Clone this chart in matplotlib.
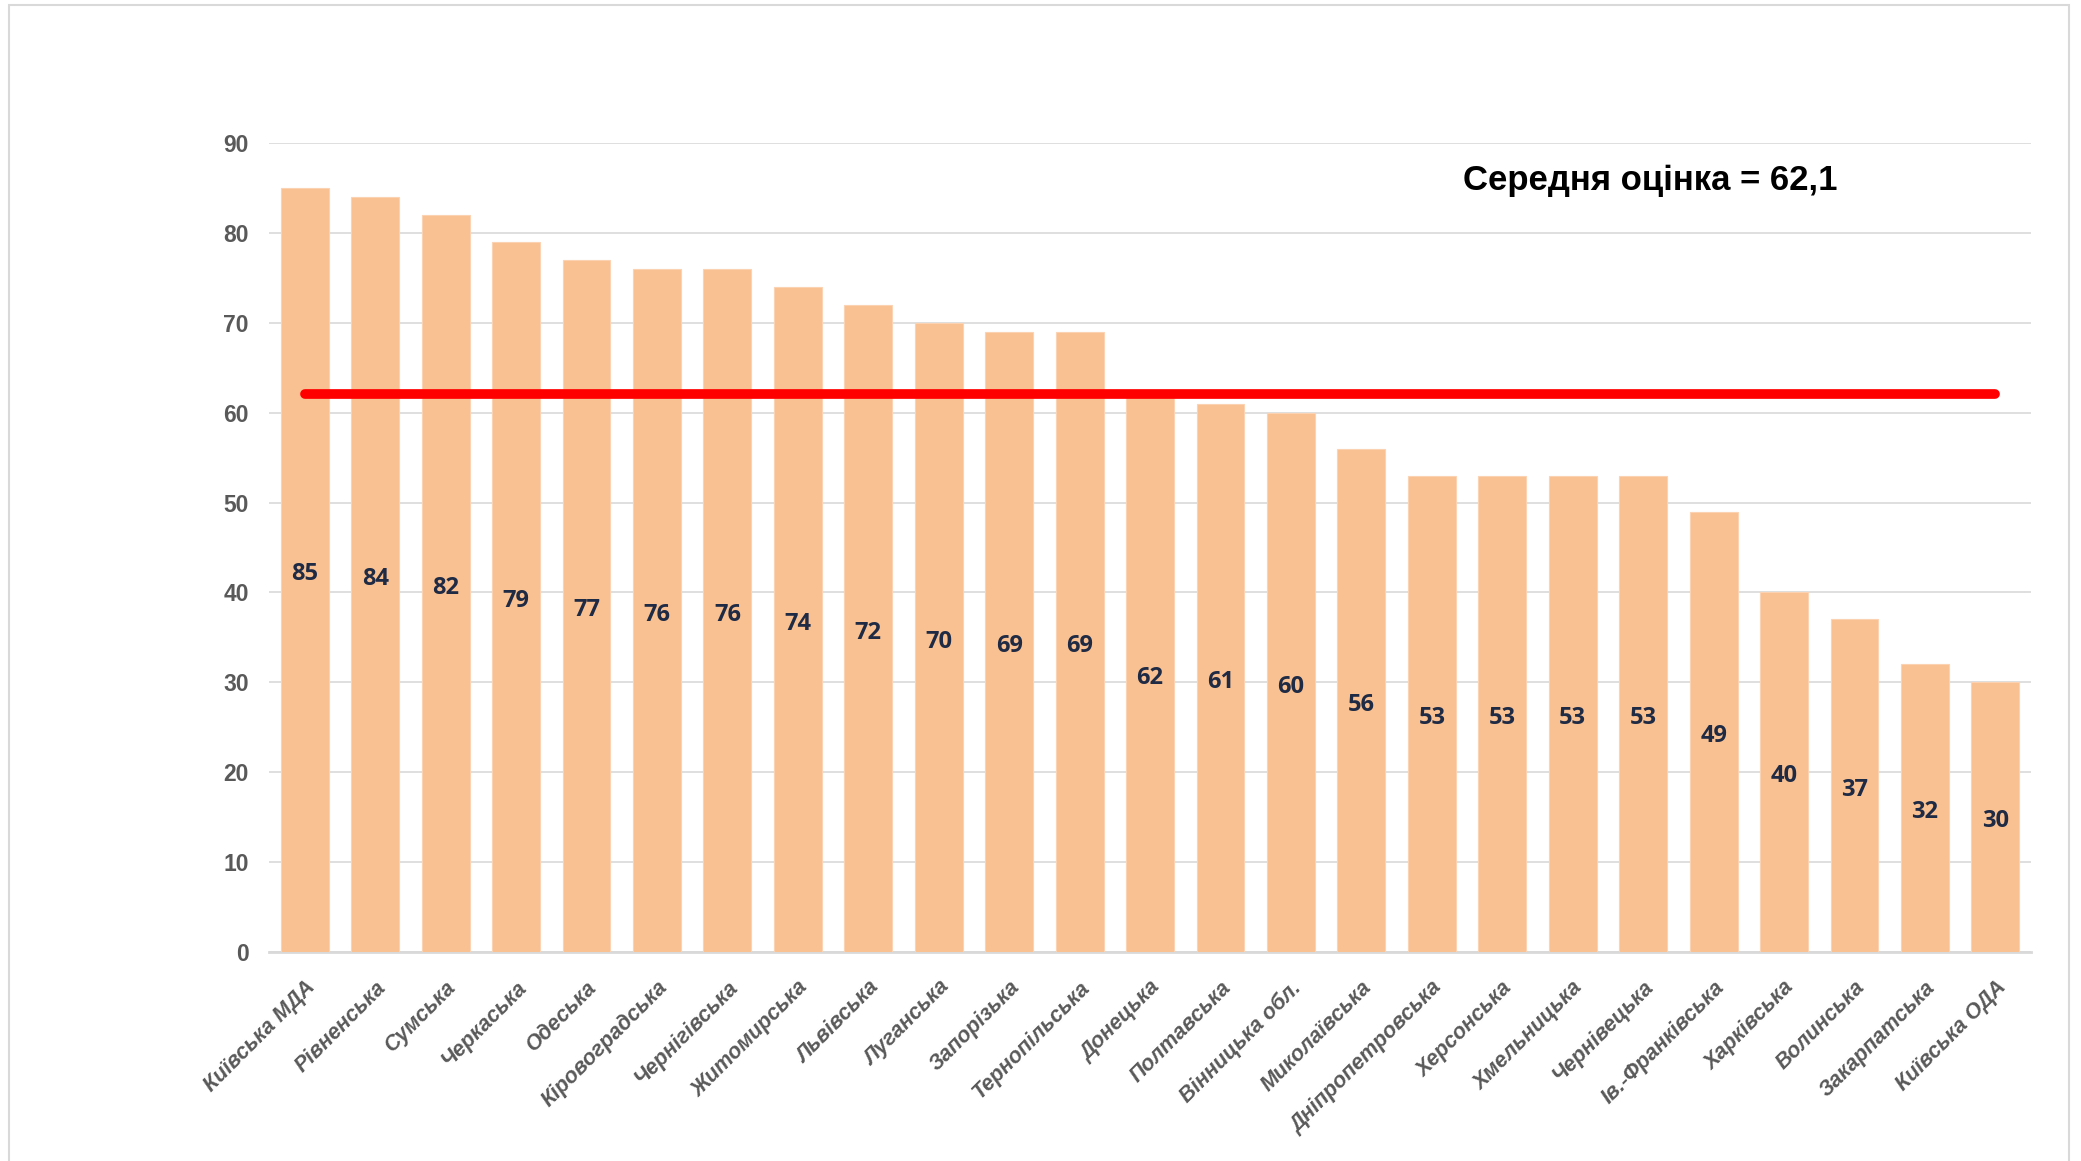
import matplotlib.pyplot as plt
from matplotlib.patches import Rectangle

regions = [
    "Київська МДА", "Рівненська", "Сумська", "Черкаська", "Одеська",
    "Кіровоградська", "Чернігівська", "Житомирська", "Львівська", "Луганська",
    "Запорізька", "Тернопільська", "Донецька", "Полтавська", "Вінницька обл.",
    "Миколаївська", "Дніпропетровська", "Херсонська", "Хмельницька", "Чернівецька",
    "Ів.-Франківська", "Харківська", "Волинська", "Закарпатська", "Київська ОДА",
]
scores = [85, 84, 82, 79, 77, 76, 76, 74, 72, 70, 69, 69, 62, 61, 60,
          56, 53, 53, 53, 53, 49, 40, 37, 32, 30]
mean_score = 62.1
mean_label = "Середня оцінка = 62,1"

bar_color = "#F9C191"
grid_color = "#D9D9D9"
tick_color = "#595959"
value_color = "#1F2A44"

fig = plt.figure(figsize=(20.81, 11.61), dpi=100)
fig.patches.append(Rectangle((0.0043, -0.1), 0.99, 1.0957, transform=fig.transFigure,
                             fill=False, edgecolor="#D9D9D9", linewidth=1.5))

ax = fig.add_axes([0.1295, 0.180, 0.8463, 0.6968])
x = list(range(len(regions)))
ax.bar(x, scores, width=0.68, color=bar_color, edgecolor="#FBD3B3",
       linewidth=0.8, zorder=2)

# mean line over the bars
ax.plot([0, len(regions) - 1], [mean_score, mean_score], color="#FF0000",
        linewidth=7, solid_capstyle="round", zorder=3)

for xi, v in zip(x, scores):
    ax.annotate(str(v), (xi, v / 2), xytext=(0, -3), textcoords="offset points",
                ha="center", va="center", fontsize=17, fontweight="bold",
                family="Open Sans", color=value_color, zorder=4)

ax.text(19.1, 85.8, mean_label, ha="center", va="center", fontsize=25,
        fontweight="bold", family="Liberation Sans", color="black")

ax.set_xlim(-0.5, len(regions) - 0.5)
ax.set_ylim(0, 90)
ax.set_yticks(range(0, 91, 10))
ax.yaxis.grid(True, color=grid_color, linewidth=1.2, zorder=0)
ax.set_axisbelow(True)

for s in ["top", "right", "left"]:
    ax.spines[s].set_visible(False)
ax.spines["bottom"].set_color(grid_color)
ax.spines["bottom"].set_linewidth(2)
ax.spines["bottom"].set_zorder(1)

ax.tick_params(axis="y", length=0, pad=15, labelcolor=tick_color)
ax.tick_params(axis="x", length=0, pad=18, labelcolor=tick_color)
for lbl in ax.get_yticklabels():
    lbl.set_fontsize(16.5)
    lbl.set_fontweight("bold")
    lbl.set_family("Liberation Sans")

ax.set_xticks(x)
ax.set_xticklabels(regions, rotation=45, ha="right", va="top",
                   rotation_mode="anchor", fontsize=15.5, fontweight="bold",
                   fontstyle="italic", family="Liberation Sans")

plt.savefig("out.png", dpi=100)
